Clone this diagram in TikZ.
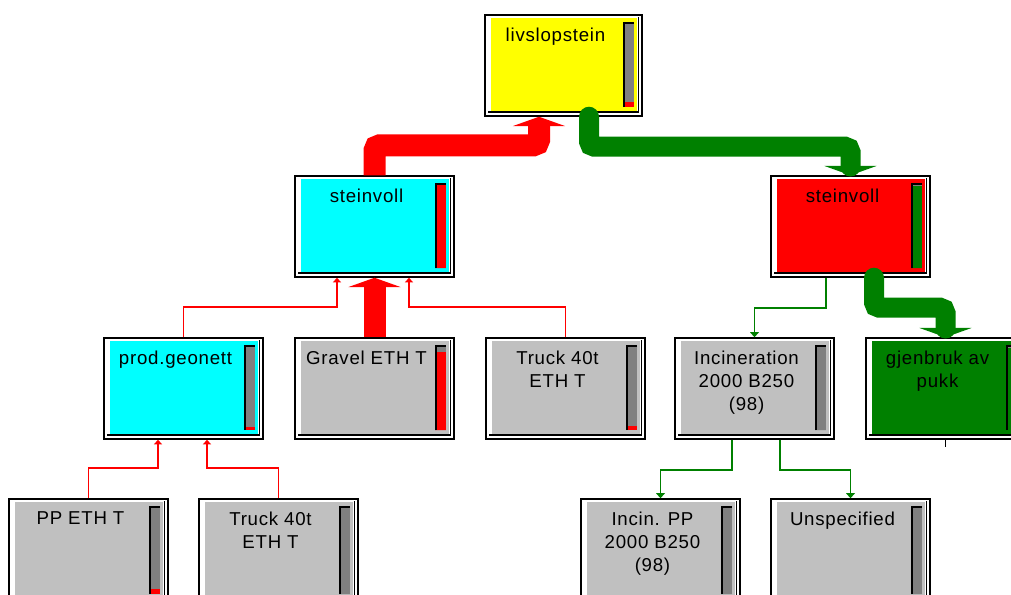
\documentclass[tikz,border=0pt]{standalone}
\usepackage{fontspec}
\newfontfamily\boxfont[LetterSpace=4]{Liberation Sans}
\usetikzlibrary{arrows.meta,calc,fit}
\definecolor{yellowb}{RGB}{255,255,0}
\definecolor{cyanb}{RGB}{0,255,255}
\definecolor{redb}{RGB}{255,0,0}
\definecolor{greenb}{RGB}{0,128,0}
\definecolor{grayb}{RGB}{192,192,192}
\definecolor{barg}{RGB}{128,128,128}
\tikzset{
  boxtext/.style={font={\boxfont\fontsize{14}{17.25}\selectfont}, align=center, inner sep=0pt, anchor=north},
  frame/.style={draw, inner sep=0pt, line width=1.1pt},
  bigred/.style={draw=redb, line width=16.5pt, rounded corners=4pt, -{Triangle[width=39pt,length=7pt]}},
  biggreen/.style={draw=greenb, line width=15pt, rounded corners=4pt, line cap=round, -{Triangle[width=39pt,length=7pt]}},
  thinred/.style={draw=redb, line width=1.2pt, -{Triangle[width=6pt,length=3.5pt]}},
  thingreen/.style={draw=greenb, line width=1.2pt, -{Triangle[width=6.5pt,length=3.8pt]}}
}
% name, x1, y1, x2, y2, fill, text
\newcommand\pbox[7]{%
  \node[frame, fit={(#2,#3) (#4,#5)}] (#1) {};
  \fill[#6] ({#2+6},{#3+3.3}) rectangle ({#4-5},{#5-4.6});
  \draw[line width=1.3pt] ({#2+3},{#5-3.8}) -- ({#4-3.6},{#5-3.8}) -- ({#4-3.6},{#3+1.5});
  \node[boxtext] at ({(#2+#4)/2-8},{#3+12.5}) {#7};
}
% x2, y1, y2, main colour, top colour, top px, bottom colour, bottom px
\newcommand\pbar[8]{%
  \fill[#4] ({#1-19},{#2+7}) rectangle ({#1-8},{#3-9});
  \fill[#5] ({#1-19},{#2+7}) rectangle ({#1-8},{#2+7+#6});
  \fill[#7] ({#1-19},{#3-9-#8}) rectangle ({#1-8},{#3-9});
  \draw[line width=1.4pt] ({#1-18.3},{#3-9}) -- ({#1-18.3},{#2+7.7}) -- ({#1-8},{#2+7.7});
}
\begin{document}
\begin{tikzpicture}[x=0.75pt,y=-0.75pt]
\useasboundingbox (0,0) rectangle (1011,594);
\clip (0,0) rectangle (1011,594);

\pbox{lv}{485}{15}{642}{116}{yellowb}{livslopstein}
\pbar{642}{15}{116}{barg}{barg}{0}{redb}{5}

\pbox{stL}{295}{176}{454}{277}{cyanb}{steinvoll}
\pbar{454}{176}{277}{redb}{redb}{0}{redb}{0}

\pbox{stR}{771}{176}{930}{277}{redb}{steinvoll}
\pbar{930}{176}{277}{greenb}{barg}{3}{greenb}{0}

\pbox{pg}{104}{338}{263}{439}{cyanb}{prod.geonett}
\pbar{263}{338}{439}{barg}{barg}{0}{redb}{3}

\pbox{gr}{295}{338}{454}{439}{grayb}{Gravel ETH T}
\pbar{454}{338}{439}{redb}{barg}{7}{redb}{0}

\pbox{trM}{486}{338}{645}{439}{grayb}{Truck 40t\\ETH T}
\pbar{645}{338}{439}{barg}{barg}{0}{redb}{4}

\pbox{inc}{675}{338}{834}{439}{grayb}{Incineration\\2000 B250\\(98)}
\pbar{834}{338}{439}{barg}{barg}{0}{barg}{0}

\pbox{gj}{866}{338}{1025}{439}{greenb}{gjenbruk av\\pukk}
\pbar{1025}{338}{439}{greenb}{barg}{3}{greenb}{0}

\pbox{pp}{9}{499}{168}{603}{grayb}{PP ETH T}
\pbar{168}{499}{603}{barg}{barg}{0}{redb}{5}

\pbox{trB}{199}{499}{358}{603}{grayb}{Truck 40t\\ETH T}
\pbar{358}{499}{603}{barg}{barg}{0}{barg}{0}

\pbox{incpp}{581}{499}{740}{603}{grayb}{Incin. PP\\2000 B250\\(98)}
\pbar{740}{499}{603}{barg}{barg}{0}{barg}{0}

\pbox{un}{771}{499}{930}{603}{grayb}{Unspecified}
\pbar{930}{499}{603}{barg}{barg}{0}{barg}{0}

% thick flows
\draw[bigred] (stL.north) -- ++(0,-30) -| ($(lv.south)+(-24.5,0)$);
\draw[biggreen] ($(lv.south)+(25.5,0)$) -- ++(0,30) -| (stR.north);
\draw[biggreen] ($(stR.south)+(23.5,0)$) -- ++(0,30) -| (gj.north);
\draw[bigred] (gr.north) -- (stL.south);

% thin flows
\draw[thinred] (pg.north) -- ++(0,-30) -| ($(stL.south)+(-37.5,0)$);
\draw[thinred] (trM.north) -- ++(0,-30) -| ($(stL.south)+(34.5,0)$);
\draw[thinred] (pp.north) -- ++(0,-30) -| ($(pg.south)+(-25.5,0)$);
\draw[thinred] (trB.north) -- ++(0,-30) -| ($(pg.south)+(23.5,0)$);
\draw[thingreen] ($(stR.south)+(-24.5,0)$) -- ++(0,30) -| (inc.north);
\draw[thingreen] ($(inc.south)+(-22.5,0)$) -- ++(0,30) -| (incpp.north);
\draw[thingreen] ($(inc.south)+(25.5,0)$) -- ++(0,30) -| (un.north);

% stub below gjenbruk
\coordinate (gjstub) at ($(gj.south)+(0,7)$);
\draw[line width=1pt] (gj.south) -- (gjstub);
\end{tikzpicture}
\end{document}
